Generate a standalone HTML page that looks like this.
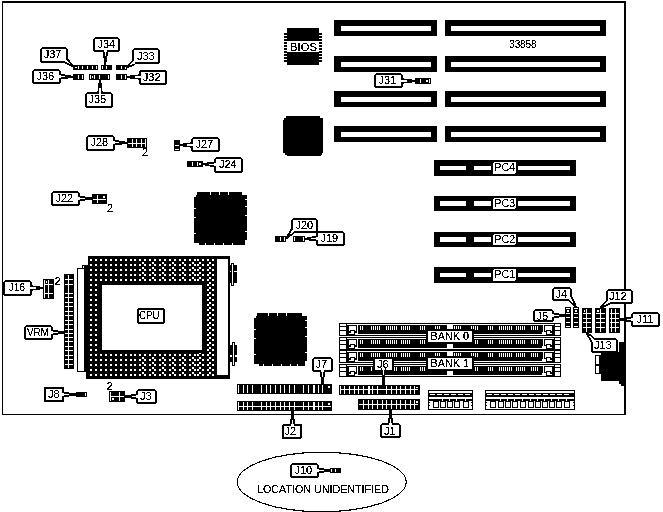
<!DOCTYPE html>
<html><head><meta charset="utf-8"><style>
html,body{margin:0;padding:0;background:#fff;width:663px;height:512px;overflow:hidden}
svg{display:block;will-change:transform}
text{font-family:"Liberation Sans",sans-serif;fill:#000}
</style></head><body>
<svg width="663" height="512" viewBox="0 0 663 512" shape-rendering="crispEdges">
<rect x="2" y="1" width="624" height="2" fill="#000"/>
<rect x="2" y="1" width="1" height="414" fill="#000"/>
<rect x="624" y="1" width="2" height="414" fill="#000"/>
<rect x="2" y="414" width="624" height="1" fill="#000"/>
<rect x="334" y="20" width="103" height="16" fill="#000"/>
<rect x="341" y="26" width="90" height="5" fill="#fff"/>
<rect x="445" y="20" width="161" height="16" fill="#000"/>
<rect x="451" y="26" width="149" height="5" fill="#fff"/>
<rect x="334" y="56" width="103" height="16" fill="#000"/>
<rect x="341" y="62" width="90" height="5" fill="#fff"/>
<rect x="445" y="56" width="161" height="16" fill="#000"/>
<rect x="451" y="62" width="149" height="5" fill="#fff"/>
<rect x="334" y="91" width="103" height="16" fill="#000"/>
<rect x="341" y="97" width="90" height="5" fill="#fff"/>
<rect x="445" y="91" width="161" height="16" fill="#000"/>
<rect x="451" y="97" width="149" height="5" fill="#fff"/>
<rect x="334" y="126" width="103" height="16" fill="#000"/>
<rect x="341" y="132" width="90" height="5" fill="#fff"/>
<rect x="445" y="126" width="161" height="16" fill="#000"/>
<rect x="451" y="132" width="149" height="5" fill="#fff"/>
<text x="509.2" y="48" font-size="10" text-anchor="start" letter-spacing="-0.1" filter="url(#crisp)" >33858</text>
<rect x="284" y="33" width="38" height="2" fill="#000"/>
<rect x="284" y="36" width="38" height="2" fill="#000"/>
<rect x="284" y="39" width="38" height="2" fill="#000"/>
<rect x="284" y="42" width="38" height="2" fill="#000"/>
<rect x="284" y="45" width="38" height="2" fill="#000"/>
<rect x="284" y="48" width="38" height="2" fill="#000"/>
<rect x="284" y="51" width="38" height="2" fill="#000"/>
<rect x="284" y="54" width="38" height="2" fill="#000"/>
<rect x="284" y="57" width="38" height="2" fill="#000"/>
<rect x="284" y="60" width="38" height="2" fill="#000"/>
<rect x="287" y="28" width="32" height="37" fill="#000"/>
<rect x="287" y="41" width="32" height="11" fill="#fff"/>
<text x="290" y="50.5" font-size="11" text-anchor="start" letter-spacing="0" filter="url(#crisp)" textLength="27" lengthAdjust="spacingAndGlyphs">BIOS</text>
<polygon points="286,116 320,116 320,118 323,118 323,153 322,153 322,155 321,155 321,156 287,156 287,155 285,155 285,153 283,153 283,120 284,120 284,118 286,118" fill="#000"/>
<rect x="434" y="160" width="142" height="16" fill="#000"/>
<rect x="440" y="166" width="26" height="4" fill="#fff"/>
<rect x="474" y="166" width="17" height="4" fill="#fff"/>
<rect x="518" y="166" width="52" height="4" fill="#fff"/>
<rect x="493" y="162" width="23" height="12" rx="2" fill="#fff"/>
<text x="494.5" y="170.8" font-size="11" text-anchor="start" letter-spacing="0" filter="url(#crisp)" textLength="20.5" lengthAdjust="spacingAndGlyphs">PC4</text>
<rect x="434" y="196" width="142" height="15" fill="#000"/>
<rect x="440" y="201" width="26" height="5" fill="#fff"/>
<rect x="474" y="201" width="17" height="5" fill="#fff"/>
<rect x="518" y="201" width="52" height="5" fill="#fff"/>
<rect x="493" y="198" width="23" height="11" rx="2" fill="#fff"/>
<text x="494.5" y="206.8" font-size="11" text-anchor="start" letter-spacing="0" filter="url(#crisp)" textLength="20.5" lengthAdjust="spacingAndGlyphs">PC3</text>
<rect x="434" y="232" width="142" height="15" fill="#000"/>
<rect x="440" y="237" width="26" height="5" fill="#fff"/>
<rect x="474" y="237" width="17" height="5" fill="#fff"/>
<rect x="518" y="237" width="52" height="5" fill="#fff"/>
<rect x="493" y="234" width="23" height="11" rx="2" fill="#fff"/>
<text x="494.5" y="242.8" font-size="11" text-anchor="start" letter-spacing="0" filter="url(#crisp)" textLength="20.5" lengthAdjust="spacingAndGlyphs">PC2</text>
<rect x="434" y="267" width="142" height="16" fill="#000"/>
<rect x="440" y="273" width="26" height="4" fill="#fff"/>
<rect x="474" y="273" width="17" height="4" fill="#fff"/>
<rect x="518" y="273" width="52" height="4" fill="#fff"/>
<rect x="493" y="269" width="23" height="12" rx="2" fill="#fff"/>
<text x="494.5" y="277.8" font-size="11" text-anchor="start" letter-spacing="0" filter="url(#crisp)" textLength="20.5" lengthAdjust="spacingAndGlyphs">PC1</text>
<polygon points="197,192 242,192 242,195 247,195 247,240 245,240 245,245 199,245 199,243 194,243 194,197 196,197 196,195 197,195" fill="#000"/>
<rect x="210" y="192" width="1" height="3" fill="#fff"/>
<rect x="219" y="192" width="1" height="3" fill="#fff"/>
<rect x="228" y="192" width="1" height="3" fill="#fff"/>
<rect x="245" y="199" width="2" height="1" fill="#fff"/>
<rect x="245" y="206" width="2" height="1" fill="#fff"/>
<rect x="245" y="215" width="2" height="1" fill="#fff"/>
<rect x="245" y="231" width="2" height="1" fill="#fff"/>
<rect x="194" y="208" width="2" height="1" fill="#fff"/>
<rect x="194" y="217" width="2" height="1" fill="#fff"/>
<rect x="194" y="233" width="2" height="1" fill="#fff"/>
<rect x="205" y="243" width="1" height="2" fill="#fff"/>
<rect x="214" y="243" width="1" height="2" fill="#fff"/>
<rect x="223" y="243" width="1" height="2" fill="#fff"/>
<rect x="232" y="243" width="1" height="2" fill="#fff"/>
<polygon points="257,313 302,313 302,316 307,316 307,361 305,361 305,366 259,366 259,364 254,364 254,318 256,318 256,316 257,316" fill="#000"/>
<rect x="268" y="313" width="1" height="3" fill="#fff"/>
<rect x="277" y="313" width="1" height="3" fill="#fff"/>
<rect x="286" y="313" width="1" height="3" fill="#fff"/>
<rect x="305" y="320" width="2" height="1" fill="#fff"/>
<rect x="305" y="327" width="2" height="1" fill="#fff"/>
<rect x="305" y="336" width="2" height="1" fill="#fff"/>
<rect x="305" y="352" width="2" height="1" fill="#fff"/>
<rect x="254" y="329" width="2" height="1" fill="#fff"/>
<rect x="254" y="338" width="2" height="1" fill="#fff"/>
<rect x="254" y="354" width="2" height="1" fill="#fff"/>
<rect x="263" y="364" width="1" height="2" fill="#fff"/>
<rect x="272" y="364" width="1" height="2" fill="#fff"/>
<rect x="281" y="364" width="1" height="2" fill="#fff"/>
<rect x="290" y="364" width="1" height="2" fill="#fff"/>
<rect x="297" y="364" width="1" height="2" fill="#fff"/>
<defs><filter id="crisp" filterUnits="userSpaceOnUse" x="0" y="0" width="663" height="512"><feComponentTransfer><feFuncA type="discrete" tableValues="0 0 1 1 1"/></feComponentTransfer></filter><filter id="crisp5" filterUnits="userSpaceOnUse" x="0" y="0" width="663" height="512"><feComponentTransfer><feFuncA type="discrete" tableValues="0 1"/></feComponentTransfer></filter><pattern id="dots" x="90" y="259" width="5" height="5" patternUnits="userSpaceOnUse"><rect width="2" height="2" fill="#fff"/></pattern><pattern id="dots2" x="197" y="259" width="5" height="5" patternUnits="userSpaceOnUse"><rect width="2" height="2" fill="#fff"/></pattern><pattern id="dots3" x="142" y="262" width="10" height="5" patternUnits="userSpaceOnUse"><rect width="2" height="2" fill="#fff"/></pattern><pattern id="dots5" x="89" y="259" width="5" height="5" patternUnits="userSpaceOnUse"><rect width="2" height="2" fill="#fff"/></pattern><pattern id="dots4" x="199" y="262" width="10" height="5" patternUnits="userSpaceOnUse"><rect width="2" height="2" fill="#fff"/></pattern></defs>
<rect x="88" y="256" width="142" height="123" fill="#000"/>
<rect x="89" y="258" width="44" height="119" fill="url(#dots)"/>
<rect x="133" y="258" width="63" height="119" fill="url(#dots5)"/>
<rect x="196" y="258" width="18" height="119" fill="url(#dots2)"/>
<rect x="140" y="260" width="56" height="20" fill="url(#dots3)"/>
<rect x="140" y="355" width="56" height="20" fill="url(#dots3)"/>
<rect x="197" y="260" width="16" height="115" fill="url(#dots4)"/>
<rect x="98" y="282" width="107" height="71" fill="#000"/>
<rect x="102" y="285" width="100" height="65" fill="#fff"/>
<rect x="217" y="259" width="11" height="116" fill="#fff"/>
<rect x="82" y="265" width="6" height="3" fill="#000"/>
<rect x="83" y="266" width="1" height="2" fill="#fff"/>
<rect x="77" y="268" width="7" height="104" fill="#000"/>
<rect x="78" y="269" width="6" height="102" fill="#fff"/>
<rect x="84" y="268" width="4" height="104" fill="#000"/>
<rect x="86" y="372" width="2" height="7" fill="#000"/>
<rect x="138" y="309" width="26" height="14" rx="2" fill="#fff" stroke="#000" stroke-width="2"/>
<text x="139" y="319" font-size="11" text-anchor="start" letter-spacing="0" filter="url(#crisp)" textLength="20.5" lengthAdjust="spacingAndGlyphs">CPU</text>
<rect x="230" y="265" width="1" height="18" fill="#000"/>
<rect x="231" y="263" width="3" height="23" fill="#000"/>
<rect x="232" y="264" width="1" height="21" fill="#fff"/>
<rect x="234" y="265" width="3" height="18" fill="#000"/>
<rect x="230" y="271" width="1" height="1" fill="#fff"/>
<rect x="234" y="271" width="3" height="1" fill="#fff"/>
<rect x="230" y="345" width="2" height="17" fill="#000"/>
<rect x="232" y="342" width="3" height="24" fill="#000"/>
<rect x="233" y="343" width="1" height="22" fill="#fff"/>
<rect x="235" y="345" width="2" height="17" fill="#000"/>
<rect x="230" y="355" width="2" height="2" fill="#fff"/>
<rect x="235" y="355" width="2" height="2" fill="#fff"/>
<rect x="64" y="274" width="10" height="95" fill="#000"/>
<rect x="68" y="275" width="1" height="93" fill="#fff"/>
<rect x="65" y="279" width="8" height="1" fill="#fff"/>
<rect x="65" y="284" width="8" height="1" fill="#fff"/>
<rect x="65" y="293" width="8" height="1" fill="#fff"/>
<rect x="65" y="297" width="8" height="1" fill="#fff"/>
<rect x="65" y="302" width="8" height="1" fill="#fff"/>
<rect x="65" y="306" width="8" height="1" fill="#fff"/>
<rect x="65" y="311" width="8" height="1" fill="#fff"/>
<rect x="65" y="315" width="8" height="1" fill="#fff"/>
<rect x="65" y="320" width="8" height="1" fill="#fff"/>
<rect x="65" y="324" width="8" height="1" fill="#fff"/>
<rect x="65" y="329" width="8" height="1" fill="#fff"/>
<rect x="65" y="333" width="8" height="1" fill="#fff"/>
<rect x="65" y="337" width="8" height="1" fill="#fff"/>
<rect x="65" y="341" width="8" height="1" fill="#fff"/>
<rect x="65" y="346" width="8" height="1" fill="#fff"/>
<rect x="65" y="350" width="8" height="1" fill="#fff"/>
<rect x="65" y="355" width="8" height="1" fill="#fff"/>
<rect x="65" y="359" width="8" height="1" fill="#fff"/>
<rect x="65" y="364" width="8" height="1" fill="#fff"/>
<rect x="339" y="323" width="222" height="13" fill="#000"/>
<rect x="340" y="324" width="6" height="2" fill="#fff"/>
<rect x="340" y="327" width="6" height="3" fill="#fff"/>
<rect x="340" y="331" width="6" height="4" fill="#fff"/>
<rect x="555" y="324" width="5" height="2" fill="#fff"/>
<rect x="555" y="327" width="5" height="3" fill="#fff"/>
<rect x="555" y="331" width="5" height="4" fill="#fff"/>
<rect x="347" y="324" width="207" height="1" fill="#fff"/>
<rect x="355" y="334" width="191" height="1" fill="#fff"/>
<rect x="349" y="326" width="7" height="4" fill="#fff"/>
<rect x="351" y="331" width="3" height="2" fill="#fff"/>
<rect x="349" y="333" width="5" height="1" fill="#fff"/>
<rect x="357" y="325" width="1" height="9" fill="#fff"/>
<rect x="545" y="326" width="7" height="4" fill="#fff"/>
<rect x="547" y="331" width="3" height="2" fill="#fff"/>
<rect x="547" y="333" width="5" height="1" fill="#fff"/>
<rect x="543" y="325" width="1" height="9" fill="#fff"/>
<rect x="360" y="326" width="1" height="4" fill="#fff"/>
<rect x="362" y="326" width="1" height="4" fill="#fff"/>
<rect x="371" y="326" width="1" height="4" fill="#fff"/>
<rect x="373" y="326" width="1" height="4" fill="#fff"/>
<rect x="375" y="326" width="1" height="4" fill="#fff"/>
<rect x="377" y="326" width="1" height="4" fill="#fff"/>
<rect x="379" y="326" width="1" height="4" fill="#fff"/>
<rect x="386" y="326" width="1" height="4" fill="#fff"/>
<rect x="388" y="326" width="1" height="4" fill="#fff"/>
<rect x="390" y="326" width="1" height="4" fill="#fff"/>
<rect x="392" y="326" width="1" height="4" fill="#fff"/>
<rect x="394" y="326" width="1" height="4" fill="#fff"/>
<rect x="396" y="326" width="1" height="4" fill="#fff"/>
<rect x="401" y="326" width="1" height="4" fill="#fff"/>
<rect x="403" y="326" width="1" height="4" fill="#fff"/>
<rect x="405" y="326" width="1" height="4" fill="#fff"/>
<rect x="407" y="326" width="1" height="4" fill="#fff"/>
<rect x="409" y="326" width="1" height="4" fill="#fff"/>
<rect x="420" y="326" width="1" height="4" fill="#fff"/>
<rect x="422" y="326" width="1" height="4" fill="#fff"/>
<rect x="424" y="326" width="1" height="4" fill="#fff"/>
<rect x="435" y="326" width="1" height="4" fill="#fff"/>
<rect x="437" y="326" width="1" height="4" fill="#fff"/>
<rect x="439" y="326" width="1" height="4" fill="#fff"/>
<rect x="454" y="326" width="1" height="4" fill="#fff"/>
<rect x="456" y="326" width="1" height="4" fill="#fff"/>
<rect x="458" y="326" width="1" height="4" fill="#fff"/>
<rect x="460" y="326" width="1" height="4" fill="#fff"/>
<rect x="471" y="326" width="1" height="4" fill="#fff"/>
<rect x="473" y="326" width="1" height="4" fill="#fff"/>
<rect x="475" y="326" width="1" height="4" fill="#fff"/>
<rect x="477" y="326" width="1" height="4" fill="#fff"/>
<rect x="488" y="326" width="1" height="4" fill="#fff"/>
<rect x="490" y="326" width="1" height="4" fill="#fff"/>
<rect x="492" y="326" width="1" height="4" fill="#fff"/>
<rect x="499" y="326" width="1" height="4" fill="#fff"/>
<rect x="501" y="326" width="1" height="4" fill="#fff"/>
<rect x="503" y="326" width="1" height="4" fill="#fff"/>
<rect x="505" y="326" width="1" height="4" fill="#fff"/>
<rect x="507" y="326" width="1" height="4" fill="#fff"/>
<rect x="509" y="326" width="1" height="4" fill="#fff"/>
<rect x="511" y="326" width="1" height="4" fill="#fff"/>
<rect x="516" y="326" width="1" height="4" fill="#fff"/>
<rect x="518" y="326" width="1" height="4" fill="#fff"/>
<rect x="520" y="326" width="1" height="4" fill="#fff"/>
<rect x="522" y="326" width="1" height="4" fill="#fff"/>
<rect x="524" y="326" width="1" height="4" fill="#fff"/>
<rect x="531" y="326" width="1" height="4" fill="#fff"/>
<rect x="533" y="326" width="1" height="4" fill="#fff"/>
<rect x="535" y="326" width="1" height="4" fill="#fff"/>
<rect x="537" y="326" width="1" height="4" fill="#fff"/>
<rect x="542" y="332" width="4" height="2" fill="#fff"/>
<rect x="355" y="333" width="2" height="1" fill="#fff"/>
<rect x="349" y="330" width="1" height="1" fill="#fff"/>
<rect x="355" y="330" width="1" height="1" fill="#fff"/>
<rect x="545" y="330" width="1" height="1" fill="#fff"/>
<rect x="551" y="330" width="1" height="1" fill="#fff"/>
<rect x="447" y="325" width="6" height="4" fill="#fff"/>
<rect x="339" y="337" width="222" height="13" fill="#000"/>
<rect x="340" y="338" width="6" height="2" fill="#fff"/>
<rect x="340" y="341" width="6" height="3" fill="#fff"/>
<rect x="340" y="345" width="6" height="4" fill="#fff"/>
<rect x="555" y="338" width="5" height="2" fill="#fff"/>
<rect x="555" y="341" width="5" height="3" fill="#fff"/>
<rect x="555" y="345" width="5" height="4" fill="#fff"/>
<rect x="347" y="338" width="207" height="1" fill="#fff"/>
<rect x="355" y="348" width="191" height="1" fill="#fff"/>
<rect x="349" y="340" width="7" height="4" fill="#fff"/>
<rect x="351" y="345" width="3" height="2" fill="#fff"/>
<rect x="349" y="347" width="5" height="1" fill="#fff"/>
<rect x="357" y="339" width="1" height="9" fill="#fff"/>
<rect x="545" y="340" width="7" height="4" fill="#fff"/>
<rect x="547" y="345" width="3" height="2" fill="#fff"/>
<rect x="547" y="347" width="5" height="1" fill="#fff"/>
<rect x="543" y="339" width="1" height="9" fill="#fff"/>
<rect x="360" y="340" width="1" height="4" fill="#fff"/>
<rect x="362" y="340" width="1" height="4" fill="#fff"/>
<rect x="371" y="340" width="1" height="4" fill="#fff"/>
<rect x="373" y="340" width="1" height="4" fill="#fff"/>
<rect x="375" y="340" width="1" height="4" fill="#fff"/>
<rect x="377" y="340" width="1" height="4" fill="#fff"/>
<rect x="379" y="340" width="1" height="4" fill="#fff"/>
<rect x="386" y="340" width="1" height="4" fill="#fff"/>
<rect x="388" y="340" width="1" height="4" fill="#fff"/>
<rect x="390" y="340" width="1" height="4" fill="#fff"/>
<rect x="392" y="340" width="1" height="4" fill="#fff"/>
<rect x="394" y="340" width="1" height="4" fill="#fff"/>
<rect x="396" y="340" width="1" height="4" fill="#fff"/>
<rect x="401" y="340" width="1" height="4" fill="#fff"/>
<rect x="403" y="340" width="1" height="4" fill="#fff"/>
<rect x="405" y="340" width="1" height="4" fill="#fff"/>
<rect x="407" y="340" width="1" height="4" fill="#fff"/>
<rect x="409" y="340" width="1" height="4" fill="#fff"/>
<rect x="420" y="340" width="1" height="4" fill="#fff"/>
<rect x="422" y="340" width="1" height="4" fill="#fff"/>
<rect x="424" y="340" width="1" height="4" fill="#fff"/>
<rect x="435" y="340" width="1" height="4" fill="#fff"/>
<rect x="437" y="340" width="1" height="4" fill="#fff"/>
<rect x="439" y="340" width="1" height="4" fill="#fff"/>
<rect x="454" y="340" width="1" height="4" fill="#fff"/>
<rect x="456" y="340" width="1" height="4" fill="#fff"/>
<rect x="458" y="340" width="1" height="4" fill="#fff"/>
<rect x="460" y="340" width="1" height="4" fill="#fff"/>
<rect x="471" y="340" width="1" height="4" fill="#fff"/>
<rect x="473" y="340" width="1" height="4" fill="#fff"/>
<rect x="475" y="340" width="1" height="4" fill="#fff"/>
<rect x="477" y="340" width="1" height="4" fill="#fff"/>
<rect x="488" y="340" width="1" height="4" fill="#fff"/>
<rect x="490" y="340" width="1" height="4" fill="#fff"/>
<rect x="492" y="340" width="1" height="4" fill="#fff"/>
<rect x="499" y="340" width="1" height="4" fill="#fff"/>
<rect x="501" y="340" width="1" height="4" fill="#fff"/>
<rect x="503" y="340" width="1" height="4" fill="#fff"/>
<rect x="505" y="340" width="1" height="4" fill="#fff"/>
<rect x="507" y="340" width="1" height="4" fill="#fff"/>
<rect x="509" y="340" width="1" height="4" fill="#fff"/>
<rect x="511" y="340" width="1" height="4" fill="#fff"/>
<rect x="516" y="340" width="1" height="4" fill="#fff"/>
<rect x="518" y="340" width="1" height="4" fill="#fff"/>
<rect x="520" y="340" width="1" height="4" fill="#fff"/>
<rect x="522" y="340" width="1" height="4" fill="#fff"/>
<rect x="524" y="340" width="1" height="4" fill="#fff"/>
<rect x="531" y="340" width="1" height="4" fill="#fff"/>
<rect x="533" y="340" width="1" height="4" fill="#fff"/>
<rect x="535" y="340" width="1" height="4" fill="#fff"/>
<rect x="537" y="340" width="1" height="4" fill="#fff"/>
<rect x="542" y="346" width="4" height="2" fill="#fff"/>
<rect x="355" y="347" width="2" height="1" fill="#fff"/>
<rect x="349" y="344" width="1" height="1" fill="#fff"/>
<rect x="355" y="344" width="1" height="1" fill="#fff"/>
<rect x="545" y="344" width="1" height="1" fill="#fff"/>
<rect x="551" y="344" width="1" height="1" fill="#fff"/>
<rect x="447" y="344" width="6" height="5" fill="#fff"/>
<rect x="339" y="350" width="222" height="13" fill="#000"/>
<rect x="340" y="351" width="6" height="2" fill="#fff"/>
<rect x="340" y="354" width="6" height="3" fill="#fff"/>
<rect x="340" y="358" width="6" height="4" fill="#fff"/>
<rect x="555" y="351" width="5" height="2" fill="#fff"/>
<rect x="555" y="354" width="5" height="3" fill="#fff"/>
<rect x="555" y="358" width="5" height="4" fill="#fff"/>
<rect x="347" y="351" width="207" height="1" fill="#fff"/>
<rect x="355" y="361" width="191" height="1" fill="#fff"/>
<rect x="349" y="353" width="7" height="4" fill="#fff"/>
<rect x="351" y="358" width="3" height="2" fill="#fff"/>
<rect x="349" y="360" width="5" height="1" fill="#fff"/>
<rect x="357" y="352" width="1" height="9" fill="#fff"/>
<rect x="545" y="353" width="7" height="4" fill="#fff"/>
<rect x="547" y="358" width="3" height="2" fill="#fff"/>
<rect x="547" y="360" width="5" height="1" fill="#fff"/>
<rect x="543" y="352" width="1" height="9" fill="#fff"/>
<rect x="360" y="353" width="1" height="4" fill="#fff"/>
<rect x="362" y="353" width="1" height="4" fill="#fff"/>
<rect x="371" y="353" width="1" height="4" fill="#fff"/>
<rect x="373" y="353" width="1" height="4" fill="#fff"/>
<rect x="375" y="353" width="1" height="4" fill="#fff"/>
<rect x="377" y="353" width="1" height="4" fill="#fff"/>
<rect x="379" y="353" width="1" height="4" fill="#fff"/>
<rect x="386" y="353" width="1" height="4" fill="#fff"/>
<rect x="388" y="353" width="1" height="4" fill="#fff"/>
<rect x="390" y="353" width="1" height="4" fill="#fff"/>
<rect x="392" y="353" width="1" height="4" fill="#fff"/>
<rect x="394" y="353" width="1" height="4" fill="#fff"/>
<rect x="396" y="353" width="1" height="4" fill="#fff"/>
<rect x="401" y="353" width="1" height="4" fill="#fff"/>
<rect x="403" y="353" width="1" height="4" fill="#fff"/>
<rect x="405" y="353" width="1" height="4" fill="#fff"/>
<rect x="407" y="353" width="1" height="4" fill="#fff"/>
<rect x="409" y="353" width="1" height="4" fill="#fff"/>
<rect x="420" y="353" width="1" height="4" fill="#fff"/>
<rect x="422" y="353" width="1" height="4" fill="#fff"/>
<rect x="424" y="353" width="1" height="4" fill="#fff"/>
<rect x="435" y="353" width="1" height="4" fill="#fff"/>
<rect x="437" y="353" width="1" height="4" fill="#fff"/>
<rect x="439" y="353" width="1" height="4" fill="#fff"/>
<rect x="454" y="353" width="1" height="4" fill="#fff"/>
<rect x="456" y="353" width="1" height="4" fill="#fff"/>
<rect x="458" y="353" width="1" height="4" fill="#fff"/>
<rect x="460" y="353" width="1" height="4" fill="#fff"/>
<rect x="471" y="353" width="1" height="4" fill="#fff"/>
<rect x="473" y="353" width="1" height="4" fill="#fff"/>
<rect x="475" y="353" width="1" height="4" fill="#fff"/>
<rect x="477" y="353" width="1" height="4" fill="#fff"/>
<rect x="488" y="353" width="1" height="4" fill="#fff"/>
<rect x="490" y="353" width="1" height="4" fill="#fff"/>
<rect x="492" y="353" width="1" height="4" fill="#fff"/>
<rect x="499" y="353" width="1" height="4" fill="#fff"/>
<rect x="501" y="353" width="1" height="4" fill="#fff"/>
<rect x="503" y="353" width="1" height="4" fill="#fff"/>
<rect x="505" y="353" width="1" height="4" fill="#fff"/>
<rect x="507" y="353" width="1" height="4" fill="#fff"/>
<rect x="509" y="353" width="1" height="4" fill="#fff"/>
<rect x="511" y="353" width="1" height="4" fill="#fff"/>
<rect x="516" y="353" width="1" height="4" fill="#fff"/>
<rect x="518" y="353" width="1" height="4" fill="#fff"/>
<rect x="520" y="353" width="1" height="4" fill="#fff"/>
<rect x="522" y="353" width="1" height="4" fill="#fff"/>
<rect x="524" y="353" width="1" height="4" fill="#fff"/>
<rect x="531" y="353" width="1" height="4" fill="#fff"/>
<rect x="533" y="353" width="1" height="4" fill="#fff"/>
<rect x="535" y="353" width="1" height="4" fill="#fff"/>
<rect x="537" y="353" width="1" height="4" fill="#fff"/>
<rect x="542" y="359" width="4" height="2" fill="#fff"/>
<rect x="355" y="360" width="2" height="1" fill="#fff"/>
<rect x="349" y="357" width="1" height="1" fill="#fff"/>
<rect x="355" y="357" width="1" height="1" fill="#fff"/>
<rect x="545" y="357" width="1" height="1" fill="#fff"/>
<rect x="551" y="357" width="1" height="1" fill="#fff"/>
<rect x="447" y="352" width="6" height="4" fill="#fff"/>
<rect x="339" y="364" width="222" height="13" fill="#000"/>
<rect x="340" y="365" width="6" height="2" fill="#fff"/>
<rect x="340" y="368" width="6" height="3" fill="#fff"/>
<rect x="340" y="372" width="6" height="4" fill="#fff"/>
<rect x="555" y="365" width="5" height="2" fill="#fff"/>
<rect x="555" y="368" width="5" height="3" fill="#fff"/>
<rect x="555" y="372" width="5" height="4" fill="#fff"/>
<rect x="347" y="365" width="207" height="1" fill="#fff"/>
<rect x="355" y="375" width="191" height="1" fill="#fff"/>
<rect x="349" y="367" width="7" height="4" fill="#fff"/>
<rect x="351" y="372" width="3" height="2" fill="#fff"/>
<rect x="349" y="374" width="5" height="1" fill="#fff"/>
<rect x="357" y="366" width="1" height="9" fill="#fff"/>
<rect x="545" y="367" width="7" height="4" fill="#fff"/>
<rect x="547" y="372" width="3" height="2" fill="#fff"/>
<rect x="547" y="374" width="5" height="1" fill="#fff"/>
<rect x="543" y="366" width="1" height="9" fill="#fff"/>
<rect x="360" y="367" width="1" height="4" fill="#fff"/>
<rect x="362" y="367" width="1" height="4" fill="#fff"/>
<rect x="371" y="367" width="1" height="4" fill="#fff"/>
<rect x="373" y="367" width="1" height="4" fill="#fff"/>
<rect x="375" y="367" width="1" height="4" fill="#fff"/>
<rect x="377" y="367" width="1" height="4" fill="#fff"/>
<rect x="379" y="367" width="1" height="4" fill="#fff"/>
<rect x="386" y="367" width="1" height="4" fill="#fff"/>
<rect x="388" y="367" width="1" height="4" fill="#fff"/>
<rect x="390" y="367" width="1" height="4" fill="#fff"/>
<rect x="392" y="367" width="1" height="4" fill="#fff"/>
<rect x="394" y="367" width="1" height="4" fill="#fff"/>
<rect x="396" y="367" width="1" height="4" fill="#fff"/>
<rect x="401" y="367" width="1" height="4" fill="#fff"/>
<rect x="403" y="367" width="1" height="4" fill="#fff"/>
<rect x="405" y="367" width="1" height="4" fill="#fff"/>
<rect x="407" y="367" width="1" height="4" fill="#fff"/>
<rect x="409" y="367" width="1" height="4" fill="#fff"/>
<rect x="420" y="367" width="1" height="4" fill="#fff"/>
<rect x="422" y="367" width="1" height="4" fill="#fff"/>
<rect x="424" y="367" width="1" height="4" fill="#fff"/>
<rect x="435" y="367" width="1" height="4" fill="#fff"/>
<rect x="437" y="367" width="1" height="4" fill="#fff"/>
<rect x="439" y="367" width="1" height="4" fill="#fff"/>
<rect x="454" y="367" width="1" height="4" fill="#fff"/>
<rect x="456" y="367" width="1" height="4" fill="#fff"/>
<rect x="458" y="367" width="1" height="4" fill="#fff"/>
<rect x="460" y="367" width="1" height="4" fill="#fff"/>
<rect x="471" y="367" width="1" height="4" fill="#fff"/>
<rect x="473" y="367" width="1" height="4" fill="#fff"/>
<rect x="475" y="367" width="1" height="4" fill="#fff"/>
<rect x="477" y="367" width="1" height="4" fill="#fff"/>
<rect x="488" y="367" width="1" height="4" fill="#fff"/>
<rect x="490" y="367" width="1" height="4" fill="#fff"/>
<rect x="492" y="367" width="1" height="4" fill="#fff"/>
<rect x="499" y="367" width="1" height="4" fill="#fff"/>
<rect x="501" y="367" width="1" height="4" fill="#fff"/>
<rect x="503" y="367" width="1" height="4" fill="#fff"/>
<rect x="505" y="367" width="1" height="4" fill="#fff"/>
<rect x="507" y="367" width="1" height="4" fill="#fff"/>
<rect x="509" y="367" width="1" height="4" fill="#fff"/>
<rect x="511" y="367" width="1" height="4" fill="#fff"/>
<rect x="516" y="367" width="1" height="4" fill="#fff"/>
<rect x="518" y="367" width="1" height="4" fill="#fff"/>
<rect x="520" y="367" width="1" height="4" fill="#fff"/>
<rect x="522" y="367" width="1" height="4" fill="#fff"/>
<rect x="524" y="367" width="1" height="4" fill="#fff"/>
<rect x="531" y="367" width="1" height="4" fill="#fff"/>
<rect x="533" y="367" width="1" height="4" fill="#fff"/>
<rect x="535" y="367" width="1" height="4" fill="#fff"/>
<rect x="537" y="367" width="1" height="4" fill="#fff"/>
<rect x="542" y="373" width="4" height="2" fill="#fff"/>
<rect x="355" y="374" width="2" height="1" fill="#fff"/>
<rect x="349" y="371" width="1" height="1" fill="#fff"/>
<rect x="355" y="371" width="1" height="1" fill="#fff"/>
<rect x="545" y="371" width="1" height="1" fill="#fff"/>
<rect x="551" y="371" width="1" height="1" fill="#fff"/>
<rect x="447" y="371" width="6" height="5" fill="#fff"/>
<rect x="426" y="329" width="48" height="15" fill="#000"/>
<rect x="428" y="331" width="44" height="11" fill="#fff"/>
<text x="430.5" y="340" font-size="11" text-anchor="start" letter-spacing="0" filter="url(#crisp)" textLength="38.5" lengthAdjust="spacingAndGlyphs">BANK 0</text>
<rect x="426" y="356" width="48" height="15" fill="#000"/>
<rect x="428" y="358" width="44" height="11" fill="#fff"/>
<text x="430.5" y="367" font-size="11" text-anchor="start" letter-spacing="0" filter="url(#crisp)" textLength="38.5" lengthAdjust="spacingAndGlyphs">BANK 1</text>
<rect x="237" y="384" width="95" height="10" fill="#000"/>
<rect x="238" y="385" width="1" height="8" fill="#fff"/>
<rect x="243" y="385" width="1" height="8" fill="#fff"/>
<rect x="247" y="385" width="1" height="8" fill="#fff"/>
<rect x="252" y="385" width="1" height="8" fill="#fff"/>
<rect x="261" y="385" width="1" height="8" fill="#fff"/>
<rect x="266" y="385" width="1" height="8" fill="#fff"/>
<rect x="270" y="385" width="1" height="8" fill="#fff"/>
<rect x="275" y="385" width="1" height="8" fill="#fff"/>
<rect x="280" y="385" width="1" height="8" fill="#fff"/>
<rect x="284" y="385" width="1" height="8" fill="#fff"/>
<rect x="289" y="385" width="1" height="8" fill="#fff"/>
<rect x="294" y="385" width="1" height="8" fill="#fff"/>
<rect x="303" y="385" width="1" height="8" fill="#fff"/>
<rect x="308" y="385" width="1" height="8" fill="#fff"/>
<rect x="313" y="385" width="1" height="8" fill="#fff"/>
<rect x="314" y="385" width="1" height="8" fill="#fff"/>
<rect x="318" y="385" width="1" height="8" fill="#fff"/>
<rect x="322" y="385" width="1" height="8" fill="#fff"/>
<rect x="328" y="386" width="2" height="2" fill="#fff"/>
<rect x="237" y="401" width="95" height="10" fill="#000"/>
<rect x="238" y="402" width="1" height="8" fill="#fff"/>
<rect x="243" y="402" width="1" height="8" fill="#fff"/>
<rect x="247" y="402" width="1" height="8" fill="#fff"/>
<rect x="252" y="402" width="1" height="8" fill="#fff"/>
<rect x="261" y="402" width="1" height="8" fill="#fff"/>
<rect x="266" y="402" width="1" height="8" fill="#fff"/>
<rect x="270" y="402" width="1" height="8" fill="#fff"/>
<rect x="275" y="402" width="1" height="8" fill="#fff"/>
<rect x="280" y="402" width="1" height="8" fill="#fff"/>
<rect x="284" y="402" width="1" height="8" fill="#fff"/>
<rect x="289" y="402" width="1" height="8" fill="#fff"/>
<rect x="294" y="402" width="1" height="8" fill="#fff"/>
<rect x="303" y="402" width="1" height="8" fill="#fff"/>
<rect x="308" y="402" width="1" height="8" fill="#fff"/>
<rect x="313" y="402" width="1" height="8" fill="#fff"/>
<rect x="314" y="402" width="1" height="8" fill="#fff"/>
<rect x="318" y="402" width="1" height="8" fill="#fff"/>
<rect x="322" y="402" width="1" height="8" fill="#fff"/>
<rect x="238" y="406" width="93" height="1" fill="#fff"/>
<rect x="328" y="403" width="2" height="2" fill="#fff"/>
<rect x="339" y="385" width="81" height="10" fill="#000"/>
<rect x="340" y="386" width="1" height="8" fill="#fff"/>
<rect x="344" y="386" width="1" height="8" fill="#fff"/>
<rect x="349" y="386" width="1" height="8" fill="#fff"/>
<rect x="354" y="386" width="1" height="8" fill="#fff"/>
<rect x="358" y="386" width="1" height="8" fill="#fff"/>
<rect x="363" y="386" width="1" height="8" fill="#fff"/>
<rect x="368" y="386" width="1" height="8" fill="#fff"/>
<rect x="369" y="386" width="1" height="8" fill="#fff"/>
<rect x="372" y="386" width="1" height="8" fill="#fff"/>
<rect x="377" y="386" width="1" height="8" fill="#fff"/>
<rect x="386" y="386" width="1" height="8" fill="#fff"/>
<rect x="391" y="386" width="1" height="8" fill="#fff"/>
<rect x="396" y="386" width="1" height="8" fill="#fff"/>
<rect x="400" y="386" width="1" height="8" fill="#fff"/>
<rect x="405" y="386" width="1" height="8" fill="#fff"/>
<rect x="410" y="386" width="1" height="8" fill="#fff"/>
<rect x="414" y="386" width="1" height="8" fill="#fff"/>
<rect x="340" y="389" width="78" height="1" fill="#fff"/>
<rect x="416" y="387" width="2" height="1" fill="#fff"/>
<rect x="358" y="399" width="62" height="11" fill="#000"/>
<rect x="363" y="400" width="1" height="9" fill="#fff"/>
<rect x="368" y="400" width="1" height="9" fill="#fff"/>
<rect x="372" y="400" width="1" height="9" fill="#fff"/>
<rect x="377" y="400" width="1" height="9" fill="#fff"/>
<rect x="382" y="400" width="1" height="9" fill="#fff"/>
<rect x="386" y="400" width="1" height="9" fill="#fff"/>
<rect x="391" y="400" width="1" height="9" fill="#fff"/>
<rect x="396" y="400" width="1" height="9" fill="#fff"/>
<rect x="400" y="400" width="1" height="9" fill="#fff"/>
<rect x="405" y="400" width="1" height="9" fill="#fff"/>
<rect x="410" y="400" width="1" height="9" fill="#fff"/>
<rect x="414" y="400" width="1" height="9" fill="#fff"/>
<rect x="359" y="404" width="59" height="1" fill="#fff"/>
<rect x="416" y="401" width="2" height="2" fill="#fff"/>
<rect x="428" y="390" width="45" height="20" fill="#000"/>
<rect x="429" y="391" width="43" height="2" fill="#fff"/>
<rect x="430" y="394" width="5" height="1" fill="#fff"/>
<rect x="437" y="394" width="5" height="1" fill="#fff"/>
<rect x="444" y="394" width="5" height="1" fill="#fff"/>
<rect x="451" y="394" width="5" height="1" fill="#fff"/>
<rect x="458" y="394" width="5" height="1" fill="#fff"/>
<rect x="465" y="394" width="5" height="1" fill="#fff"/>
<rect x="429" y="397" width="43" height="2" fill="#fff"/>
<rect x="429" y="401" width="43" height="8" fill="#fff"/>
<rect x="433" y="401" width="6" height="7" fill="#000"/>
<rect x="434" y="402" width="4" height="5" fill="#fff"/>
<rect x="440" y="401" width="6" height="7" fill="#000"/>
<rect x="441" y="402" width="4" height="5" fill="#fff"/>
<rect x="442" y="399" width="1" height="2" fill="#fff"/>
<rect x="447" y="401" width="6" height="7" fill="#000"/>
<rect x="448" y="402" width="4" height="5" fill="#fff"/>
<rect x="449" y="399" width="1" height="2" fill="#fff"/>
<rect x="454" y="401" width="6" height="7" fill="#000"/>
<rect x="455" y="402" width="4" height="5" fill="#fff"/>
<rect x="456" y="399" width="1" height="2" fill="#fff"/>
<rect x="463" y="401" width="6" height="7" fill="#000"/>
<rect x="464" y="402" width="4" height="5" fill="#fff"/>
<rect x="465" y="399" width="1" height="2" fill="#fff"/>
<rect x="429" y="402" width="1" height="1" fill="#000"/>
<rect x="429" y="405" width="1" height="1" fill="#000"/>
<rect x="471" y="402" width="1" height="1" fill="#000"/>
<rect x="471" y="405" width="1" height="1" fill="#000"/>
<rect x="485" y="390" width="90" height="20" fill="#000"/>
<rect x="486" y="391" width="88" height="2" fill="#fff"/>
<rect x="487" y="394" width="5" height="1" fill="#fff"/>
<rect x="494" y="394" width="5" height="1" fill="#fff"/>
<rect x="501" y="394" width="5" height="1" fill="#fff"/>
<rect x="508" y="394" width="5" height="1" fill="#fff"/>
<rect x="515" y="394" width="5" height="1" fill="#fff"/>
<rect x="522" y="394" width="5" height="1" fill="#fff"/>
<rect x="529" y="394" width="5" height="1" fill="#fff"/>
<rect x="536" y="394" width="5" height="1" fill="#fff"/>
<rect x="543" y="394" width="5" height="1" fill="#fff"/>
<rect x="550" y="394" width="5" height="1" fill="#fff"/>
<rect x="557" y="394" width="5" height="1" fill="#fff"/>
<rect x="564" y="394" width="5" height="1" fill="#fff"/>
<rect x="486" y="397" width="88" height="2" fill="#fff"/>
<rect x="486" y="401" width="88" height="8" fill="#fff"/>
<rect x="490" y="401" width="6" height="7" fill="#000"/>
<rect x="491" y="402" width="4" height="5" fill="#fff"/>
<rect x="498" y="401" width="6" height="7" fill="#000"/>
<rect x="499" y="402" width="4" height="5" fill="#fff"/>
<rect x="500" y="399" width="1" height="2" fill="#fff"/>
<rect x="505" y="401" width="6" height="7" fill="#000"/>
<rect x="506" y="402" width="4" height="5" fill="#fff"/>
<rect x="507" y="399" width="1" height="2" fill="#fff"/>
<rect x="512" y="401" width="6" height="7" fill="#000"/>
<rect x="513" y="402" width="4" height="5" fill="#fff"/>
<rect x="514" y="399" width="1" height="2" fill="#fff"/>
<rect x="520" y="401" width="6" height="7" fill="#000"/>
<rect x="521" y="402" width="4" height="5" fill="#fff"/>
<rect x="522" y="399" width="1" height="2" fill="#fff"/>
<rect x="528" y="401" width="6" height="7" fill="#000"/>
<rect x="529" y="402" width="4" height="5" fill="#fff"/>
<rect x="530" y="399" width="1" height="2" fill="#fff"/>
<rect x="535" y="401" width="6" height="7" fill="#000"/>
<rect x="536" y="402" width="4" height="5" fill="#fff"/>
<rect x="537" y="399" width="1" height="2" fill="#fff"/>
<rect x="542" y="401" width="6" height="7" fill="#000"/>
<rect x="543" y="402" width="4" height="5" fill="#fff"/>
<rect x="544" y="399" width="1" height="2" fill="#fff"/>
<rect x="549" y="401" width="6" height="7" fill="#000"/>
<rect x="550" y="402" width="4" height="5" fill="#fff"/>
<rect x="551" y="399" width="1" height="2" fill="#fff"/>
<rect x="556" y="401" width="6" height="7" fill="#000"/>
<rect x="557" y="402" width="4" height="5" fill="#fff"/>
<rect x="558" y="399" width="1" height="2" fill="#fff"/>
<rect x="564" y="401" width="6" height="7" fill="#000"/>
<rect x="565" y="402" width="4" height="5" fill="#fff"/>
<rect x="566" y="399" width="1" height="2" fill="#fff"/>
<rect x="486" y="402" width="1" height="1" fill="#000"/>
<rect x="486" y="405" width="1" height="1" fill="#000"/>
<rect x="573" y="402" width="1" height="1" fill="#000"/>
<rect x="573" y="405" width="1" height="1" fill="#000"/>
<polygon points="619,342 626,342 626,386 621,386 621,384 619,384 619,381 601,381 601,352 619,352" fill="#000"/>
<rect x="595" y="355" width="6" height="19" fill="#000"/>
<rect x="596" y="356" width="3" height="8" fill="#fff"/>
<rect x="596" y="366" width="3" height="7" fill="#fff"/>
<rect x="41" y="48" width="26" height="14" rx="2.5" fill="#fff" stroke="#000" stroke-width="2"/>
<text x="43.7" y="58" font-size="11" text-anchor="start" letter-spacing="0" filter="url(#crisp)" >J37</text>
<rect x="73" y="65" width="25" height="5" fill="#000"/>
<rect x="78" y="66" width="1" height="3" fill="#fff"/>
<rect x="82" y="66" width="1" height="3" fill="#fff"/>
<rect x="87" y="66" width="1" height="3" fill="#fff"/>
<rect x="92" y="66" width="1" height="3" fill="#fff"/>
<rect x="96" y="66" width="1" height="3" fill="#fff"/>
<rect x="75" y="67" width="2" height="1" fill="#fff"/>
<polygon points="63.57,62.62 69.74,65.94 73.32,67.86 74.68,66.14 71.96,63.11 67.28,57.91" fill="#000"/>
<polygon points="64.23,60.98 69.39,63.95 69.95,63.24 65.84,58.93" fill="#fff"/>
<rect x="33" y="70" width="27" height="13" rx="2.5" fill="#fff" stroke="#000" stroke-width="2"/>
<text x="36.5" y="80" font-size="11" text-anchor="start" letter-spacing="0" filter="url(#crisp)" >J36</text>
<rect x="73" y="74" width="11" height="6" fill="#000"/>
<rect x="78" y="75" width="1" height="4" fill="#fff"/>
<rect x="82" y="75" width="1" height="4" fill="#fff"/>
<polygon points="58.88,79.41 66.92,78.55 72.95,78.10 73.05,75.90 67.07,74.95 59.13,73.42" fill="#000"/>
<polygon points="58.45,77.69 65.48,77.14 65.51,76.24 58.56,75.10" fill="#fff"/>
<rect x="94" y="38" width="25" height="13" rx="2.5" fill="#fff" stroke="#000" stroke-width="2"/>
<text x="97.5" y="48" font-size="11" text-anchor="start" letter-spacing="0" filter="url(#crisp)" >J34</text>
<rect x="101" y="65" width="11" height="5" fill="#000"/>
<rect x="102" y="66" width="1" height="3" fill="#fff"/>
<rect x="106" y="66" width="1" height="3" fill="#fff"/>
<polygon points="102.58,49.89 103.47,57.93 103.90,64.96 106.10,65.04 107.07,58.06 108.57,50.12" fill="#000"/>
<polygon points="104.30,49.45 104.88,56.48 105.78,56.51 106.90,49.55" fill="#fff"/>
<rect x="133" y="49" width="26" height="14" rx="2.5" fill="#fff" stroke="#000" stroke-width="2"/>
<text x="137" y="60" font-size="11" text-anchor="start" letter-spacing="0" filter="url(#crisp)" >J33</text>
<rect x="116" y="65" width="11" height="5" fill="#000"/>
<rect x="121" y="66" width="1" height="3" fill="#fff"/>
<rect x="125" y="66" width="1" height="3" fill="#fff"/>
<polygon points="132.63,59.90 127.98,64.17 125.42,66.56 126.58,68.44 129.87,67.23 135.78,65.01" fill="#000"/>
<polygon points="133.95,61.08 129.97,64.53 130.44,65.30 135.31,63.30" fill="#fff"/>
<rect x="89" y="74" width="21" height="6" fill="#000"/>
<rect x="90" y="75" width="1" height="4" fill="#fff"/>
<rect x="94" y="75" width="1" height="4" fill="#fff"/>
<rect x="99" y="75" width="1" height="4" fill="#fff"/>
<rect x="108" y="75" width="1" height="4" fill="#fff"/>
<rect x="92" y="76" width="1" height="2" fill="#fff"/>
<rect x="86" y="93" width="26" height="14" rx="2.5" fill="#fff" stroke="#000" stroke-width="2"/>
<text x="88.5" y="103" font-size="11" text-anchor="start" letter-spacing="0" filter="url(#crisp)" >J35</text>
<polygon points="103.00,94.00 101.80,86.00 101.10,79.50 98.90,79.50 98.20,86.00 97.00,94.00" fill="#000"/>
<polygon points="101.30,94.50 100.45,87.50 99.55,87.50 98.70,94.50" fill="#fff"/>
<rect x="140" y="71" width="26" height="13" rx="1.5" fill="#fff" stroke="#000" stroke-width="2"/>
<text x="142.8" y="81" font-size="11" text-anchor="start" letter-spacing="0" filter="url(#crisp)" >J32</text>
<rect x="116" y="74" width="11" height="6" fill="#000"/>
<rect x="121" y="75" width="1" height="4" fill="#fff"/>
<rect x="125" y="75" width="1" height="4" fill="#fff"/>
<polygon points="141.00,74.00 133.00,75.20 127.00,75.90 127.00,78.10 133.00,78.80 141.00,80.00" fill="#000"/>
<polygon points="141.50,75.70 134.50,76.55 134.50,77.45 141.50,78.30" fill="#fff"/>
<rect x="87" y="136" width="27" height="14" rx="2.5" fill="#fff" stroke="#000" stroke-width="2"/>
<text x="90.5" y="146" font-size="11" text-anchor="start" letter-spacing="0" filter="url(#crisp)" >J28</text>
<rect x="127" y="138" width="20" height="10" fill="#000"/>
<rect x="128" y="143" width="18" height="1" fill="#fff"/>
<rect x="132" y="139" width="1" height="8" fill="#fff"/>
<rect x="136" y="139" width="1" height="8" fill="#fff"/>
<rect x="141" y="139" width="1" height="8" fill="#fff"/>
<rect x="145" y="139" width="1" height="8" fill="#fff"/>
<polygon points="112.88,145.41 120.92,144.55 126.95,144.10 127.05,141.90 121.07,140.95 113.13,139.42" fill="#000"/>
<polygon points="112.45,143.69 119.48,143.14 119.51,142.24 112.56,141.10" fill="#fff"/>
<text x="142" y="155.6" font-size="11" text-anchor="start" letter-spacing="0" filter="url(#crisp)" >2</text>
<rect x="192" y="138" width="27" height="13" rx="2.5" fill="#fff" stroke="#000" stroke-width="2"/>
<text x="195.5" y="148" font-size="11" text-anchor="start" letter-spacing="0" filter="url(#crisp)" >J27</text>
<rect x="174" y="140" width="6" height="11" fill="#000"/>
<rect x="175" y="145" width="4" height="1" fill="#fff"/>
<rect x="175" y="149" width="4" height="1" fill="#fff"/>
<polygon points="193.00,142.00 185.00,143.20 180.00,143.90 180.00,146.10 185.00,146.80 193.00,148.00" fill="#000"/>
<polygon points="193.50,143.70 186.50,144.55 186.50,145.45 193.50,146.30" fill="#fff"/>
<rect x="215" y="158" width="27" height="14" rx="2.5" fill="#fff" stroke="#000" stroke-width="2"/>
<text x="219" y="168" font-size="11" text-anchor="start" letter-spacing="0" filter="url(#crisp)" >J24</text>
<rect x="187" y="161" width="16" height="6" fill="#000"/>
<rect x="192" y="162" width="1" height="4" fill="#fff"/>
<rect x="197" y="162" width="1" height="4" fill="#fff"/>
<rect x="199" y="163" width="2" height="2" fill="#fff"/>
<polygon points="216.13,161.59 208.09,162.43 203.05,162.90 202.95,165.10 207.92,166.03 215.86,167.59" fill="#000"/>
<polygon points="216.56,163.31 209.53,163.85 209.48,164.75 216.44,165.91" fill="#fff"/>
<rect x="52" y="192" width="27" height="13" rx="2.5" fill="#fff" stroke="#000" stroke-width="2"/>
<text x="55.5" y="202" font-size="11" text-anchor="start" letter-spacing="0" filter="url(#crisp)" >J22</text>
<rect x="92" y="194" width="15" height="10" fill="#000"/>
<rect x="93" y="199" width="13" height="1" fill="#fff"/>
<rect x="97" y="195" width="1" height="8" fill="#fff"/>
<rect x="103" y="196" width="2" height="2" fill="#fff"/>
<polygon points="78.00,201.50 86.00,200.30 92.00,199.60 92.00,197.40 86.00,196.70 78.00,195.50" fill="#000"/>
<polygon points="77.50,199.80 84.50,198.95 84.50,198.05 77.50,197.20" fill="#fff"/>
<text x="107" y="212" font-size="11" text-anchor="start" letter-spacing="0" filter="url(#crisp)" >2</text>
<rect x="375" y="74" width="27" height="13" rx="2.5" fill="#fff" stroke="#000" stroke-width="2"/>
<text x="378.5" y="84" font-size="11" text-anchor="start" letter-spacing="0" filter="url(#crisp)" >J31</text>
<rect x="415" y="78" width="16" height="6" fill="#000"/>
<rect x="420" y="79" width="1" height="4" fill="#fff"/>
<rect x="429" y="79" width="1" height="4" fill="#fff"/>
<rect x="426" y="80" width="2" height="2" fill="#fff"/>
<polygon points="401.00,84.00 409.00,82.80 415.00,82.10 415.00,79.90 409.00,79.20 401.00,78.00" fill="#000"/>
<polygon points="400.50,82.30 407.50,81.45 407.50,80.55 400.50,79.70" fill="#fff"/>
<rect x="292" y="219" width="25" height="13" rx="2.5" fill="#fff" stroke="#000" stroke-width="2"/>
<text x="295.5" y="229" font-size="11" text-anchor="start" letter-spacing="0" filter="url(#crisp)" >J20</text>
<rect x="275" y="236" width="11" height="6" fill="#000"/>
<rect x="280" y="237" width="1" height="4" fill="#fff"/>
<rect x="284" y="237" width="1" height="4" fill="#fff"/>
<polygon points="291.15,228.50 287.38,234.35 285.19,237.75 286.81,239.25 290.02,236.80 295.56,232.57" fill="#000"/>
<polygon points="292.74,229.28 289.39,234.17 290.05,234.78 294.65,231.04" fill="#fff"/>
<rect x="317" y="232" width="27" height="13" rx="2.5" fill="#fff" stroke="#000" stroke-width="2"/>
<text x="320.5" y="242" font-size="11" text-anchor="start" letter-spacing="0" filter="url(#crisp)" >J19</text>
<rect x="293" y="236" width="12" height="6" fill="#000"/>
<rect x="294" y="237" width="1" height="4" fill="#fff"/>
<rect x="303" y="237" width="1" height="4" fill="#fff"/>
<polygon points="317.86,235.41 309.92,236.97 304.95,237.90 305.05,240.10 310.09,240.57 318.13,241.41" fill="#000"/>
<polygon points="318.44,237.09 311.48,238.25 311.53,239.15 318.56,239.69" fill="#fff"/>
<rect x="4" y="281" width="27" height="14" rx="2.5" fill="#fff" stroke="#000" stroke-width="2"/>
<text x="9" y="291" font-size="11" text-anchor="start" letter-spacing="0" filter="url(#crisp)" textLength="16" lengthAdjust="spacingAndGlyphs">J16</text>
<rect x="43" y="279" width="11" height="20" fill="#000"/>
<rect x="44" y="280" width="1" height="18" fill="#fff"/>
<rect x="48" y="280" width="1" height="18" fill="#fff"/>
<rect x="44" y="284" width="9" height="1" fill="#fff"/>
<rect x="44" y="293" width="9" height="1" fill="#fff"/>
<rect x="46" y="281" width="1" height="2" fill="#fff"/>
<polygon points="30.00,291.00 38.00,289.80 43.00,289.10 43.00,286.90 38.00,286.20 30.00,285.00" fill="#000"/>
<polygon points="29.50,289.30 36.50,288.45 36.50,287.55 29.50,286.70" fill="#fff"/>
<text x="54.6" y="284.8" font-size="11" text-anchor="start" letter-spacing="0" filter="url(#crisp)" >2</text>
<rect x="25" y="326" width="27" height="13" rx="2.5" fill="#fff" stroke="#000" stroke-width="2"/>
<text x="27" y="336" font-size="11" text-anchor="start" letter-spacing="0" filter="url(#crisp)" textLength="22" lengthAdjust="spacingAndGlyphs">VRM</text>
<polygon points="51.00,335.50 59.00,334.30 64.00,333.60 64.00,331.40 59.00,330.70 51.00,329.50" fill="#000"/>
<polygon points="50.50,333.80 57.50,332.95 57.50,332.05 50.50,331.20" fill="#fff"/>
<rect x="45" y="388" width="18" height="13" rx="0" fill="#fff" stroke="#000" stroke-width="2"/>
<text x="48" y="398" font-size="11" text-anchor="start" letter-spacing="0" filter="url(#crisp)" >J8</text>
<rect x="76" y="392" width="11" height="5" fill="#000"/>
<rect x="85" y="393" width="1" height="3" fill="#fff"/>
<polygon points="62.00,397.50 70.00,396.30 76.00,395.60 76.00,393.40 70.00,392.70 62.00,391.50" fill="#000"/>
<polygon points="61.50,395.80 68.50,394.95 68.50,394.05 61.50,393.20" fill="#fff"/>
<text x="106.5" y="389.5" font-size="11" text-anchor="start" letter-spacing="0" filter="url(#crisp)" >2</text>
<rect x="137" y="390" width="19" height="13" rx="2.5" fill="#fff" stroke="#000" stroke-width="2"/>
<text x="140" y="400" font-size="11" text-anchor="start" letter-spacing="0" filter="url(#crisp)" >J3</text>
<rect x="109" y="391" width="16" height="11" fill="#000"/>
<rect x="110" y="396" width="14" height="1" fill="#fff"/>
<rect x="110" y="392" width="1" height="9" fill="#fff"/>
<rect x="119" y="392" width="1" height="9" fill="#fff"/>
<rect x="112" y="398" width="2" height="2" fill="#fff"/>
<polygon points="138.00,393.50 130.00,394.70 125.00,395.40 125.00,397.60 130.00,398.30 138.00,399.50" fill="#000"/>
<polygon points="138.50,395.20 131.50,396.05 131.50,396.95 138.50,397.80" fill="#fff"/>
<rect x="313" y="358" width="19" height="13" rx="2.5" fill="#fff" stroke="#000" stroke-width="2"/>
<text x="315.5" y="368" font-size="11" text-anchor="start" letter-spacing="0" filter="url(#crisp)" >J7</text>
<polygon points="319.50,370.00 320.70,378.00 321.40,384.00 323.60,384.00 324.30,378.00 325.50,370.00" fill="#000"/>
<polygon points="321.20,369.50 322.05,376.50 322.95,376.50 323.80,369.50" fill="#fff"/>
<rect x="283" y="425" width="18" height="13" rx="1" fill="#fff" stroke="#000" stroke-width="2"/>
<text x="284.5" y="435" font-size="11" text-anchor="start" letter-spacing="0" filter="url(#crisp)" >J2</text>
<polygon points="295.50,426.00 294.30,418.00 293.60,411.00 291.40,411.00 290.70,418.00 289.50,426.00" fill="#000"/>
<polygon points="293.80,426.50 292.95,419.50 292.05,419.50 291.20,426.50" fill="#fff"/>
<rect x="381" y="424" width="19" height="13" rx="2.5" fill="#fff" stroke="#000" stroke-width="2"/>
<text x="384" y="435" font-size="11" text-anchor="start" letter-spacing="0" filter="url(#crisp)" >J1</text>
<polygon points="393.50,425.00 392.30,417.00 391.60,410.00 389.40,410.00 388.70,417.00 387.50,425.00" fill="#000"/>
<polygon points="391.80,425.50 390.95,418.50 390.05,418.50 389.20,425.50" fill="#fff"/>
<rect x="373" y="357" width="21" height="15" fill="#000"/>
<rect x="375" y="359" width="17" height="11" fill="#fff"/>
<text x="377" y="368" font-size="11" text-anchor="start" letter-spacing="0" filter="url(#crisp)" >J6</text>
<polygon points="380.50,368.00 381.70,376.00 382.40,385.00 384.60,385.00 385.30,376.00 386.50,368.00" fill="#000"/>
<polygon points="382.20,367.50 383.05,374.50 383.95,374.50 384.80,367.50" fill="#fff"/>
<rect x="553" y="288" width="18" height="12" rx="2.5" fill="#fff" stroke="#000" stroke-width="2"/>
<text x="555.5" y="297.5" font-size="11" text-anchor="start" letter-spacing="0" filter="url(#crisp)" >J4</text>
<rect x="573" y="307" width="6" height="21" fill="#000"/>
<polygon points="567.40,300.12 572.29,304.90 575.10,307.64 576.90,306.36 575.21,302.80 572.28,296.63" fill="#000"/>
<polygon points="568.49,298.72 572.51,302.89 573.24,302.37 570.60,297.21" fill="#fff"/>
<rect x="534" y="310" width="19" height="11" rx="2.5" fill="#fff" stroke="#000" stroke-width="2"/>
<text x="536.5" y="319.5" font-size="11" text-anchor="start" letter-spacing="0" filter="url(#crisp)" >J5</text>
<rect x="565" y="307" width="6" height="21" fill="#000"/>
<polygon points="552.00,318.50 560.00,317.30 565.00,316.60 565.00,314.40 560.00,313.70 552.00,312.50" fill="#000"/>
<polygon points="551.50,316.80 558.50,315.95 558.50,315.05 551.50,314.20" fill="#fff"/>
<rect x="566" y="308" width="4" height="1" fill="#fff"/>
<rect x="567" y="310" width="2" height="2" fill="#fff"/>
<rect x="566" y="313" width="4" height="1" fill="#fff"/>
<rect x="566" y="317" width="4" height="1" fill="#fff"/>
<rect x="566" y="322" width="4" height="1" fill="#fff"/>
<rect x="566" y="326" width="4" height="1" fill="#fff"/>
<rect x="574" y="308" width="4" height="1" fill="#fff"/>
<rect x="575" y="310" width="2" height="2" fill="#fff"/>
<rect x="574" y="313" width="4" height="1" fill="#fff"/>
<rect x="574" y="317" width="4" height="1" fill="#fff"/>
<rect x="574" y="322" width="4" height="1" fill="#fff"/>
<rect x="574" y="326" width="4" height="1" fill="#fff"/>
<rect x="607" y="290" width="25" height="13" rx="2.5" fill="#fff" stroke="#000" stroke-width="2"/>
<text x="609" y="300" font-size="11" text-anchor="start" letter-spacing="0" filter="url(#crisp)" >J12</text>
<polygon points="606.88,299.40 602.10,304.29 599.36,307.10 600.64,308.90 604.20,307.21 610.37,304.28" fill="#000"/>
<polygon points="608.28,300.49 604.11,304.51 604.63,305.24 609.79,302.60" fill="#fff"/>
<rect x="632" y="313" width="27" height="13" rx="2.5" fill="#fff" stroke="#000" stroke-width="2"/>
<text x="636.5" y="323" font-size="11" text-anchor="start" letter-spacing="0" filter="url(#crisp)" >J11</text>
<polygon points="633.00,316.50 625.00,317.70 620.00,318.40 620.00,320.60 625.00,321.30 633.00,322.50" fill="#000"/>
<polygon points="633.50,318.20 626.50,319.05 626.50,319.95 633.50,320.80" fill="#fff"/>
<rect x="592" y="339" width="25" height="13" rx="2.5" fill="#fff" stroke="#000" stroke-width="2"/>
<text x="594" y="349" font-size="11" text-anchor="start" letter-spacing="0" filter="url(#crisp)" >J13</text>
<polygon points="595.58,338.57 590.07,333.98 586.84,331.28 585.16,332.72 587.33,336.32 591.02,342.47" fill="#000"/>
<polygon points="594.61,340.05 590.02,336.00 589.33,336.58 592.64,341.74" fill="#fff"/>
<rect x="582" y="308" width="10" height="25" fill="#000"/>
<rect x="586" y="309" width="1" height="23" fill="#fff"/>
<rect x="583" y="313" width="8" height="1" fill="#fff"/>
<rect x="583" y="318" width="8" height="1" fill="#fff"/>
<rect x="583" y="322" width="8" height="1" fill="#fff"/>
<rect x="583" y="327" width="8" height="1" fill="#fff"/>
<rect x="595" y="308" width="11" height="25" fill="#000"/>
<rect x="600" y="309" width="1" height="23" fill="#fff"/>
<rect x="596" y="313" width="9" height="1" fill="#fff"/>
<rect x="596" y="318" width="9" height="1" fill="#fff"/>
<rect x="596" y="322" width="9" height="1" fill="#fff"/>
<rect x="596" y="327" width="9" height="1" fill="#fff"/>
<rect x="609" y="308" width="11" height="25" fill="#000"/>
<rect x="611" y="309" width="1" height="23" fill="#fff"/>
<rect x="615" y="309" width="1" height="23" fill="#fff"/>
<rect x="610" y="313" width="9" height="1" fill="#fff"/>
<rect x="610" y="318" width="9" height="1" fill="#fff"/>
<rect x="610" y="322" width="9" height="1" fill="#fff"/>
<rect x="610" y="327" width="9" height="1" fill="#fff"/>
<rect x="584" y="310" width="1" height="2" fill="#fff"/>
<rect x="597" y="310" width="2" height="2" fill="#fff"/>
<ellipse cx="321.75" cy="482" rx="84.5" ry="29.8" fill="none" stroke="#000" stroke-width="1" shape-rendering="auto" filter="url(#crisp)"/>
<rect x="291" y="464" width="27" height="13" rx="2.5" fill="#fff" stroke="#000" stroke-width="2"/>
<text x="294.5" y="474" font-size="11" text-anchor="start" letter-spacing="0" filter="url(#crisp)" >J10</text>
<rect x="330" y="468" width="11" height="5" fill="#000"/>
<rect x="331" y="469" width="1" height="3" fill="#fff"/>
<rect x="335" y="469" width="1" height="3" fill="#fff"/>
<polygon points="317.00,473.50 325.00,472.30 330.00,471.60 330.00,469.40 325.00,468.70 317.00,467.50" fill="#000"/>
<polygon points="316.50,471.80 323.50,470.95 323.50,470.05 316.50,469.20" fill="#fff"/>
<text x="257" y="493" font-size="11" text-anchor="start" letter-spacing="0" filter="url(#crisp)" textLength="132" lengthAdjust="spacingAndGlyphs">LOCATION UNIDENTIFIED</text>
</svg>
</body></html>
